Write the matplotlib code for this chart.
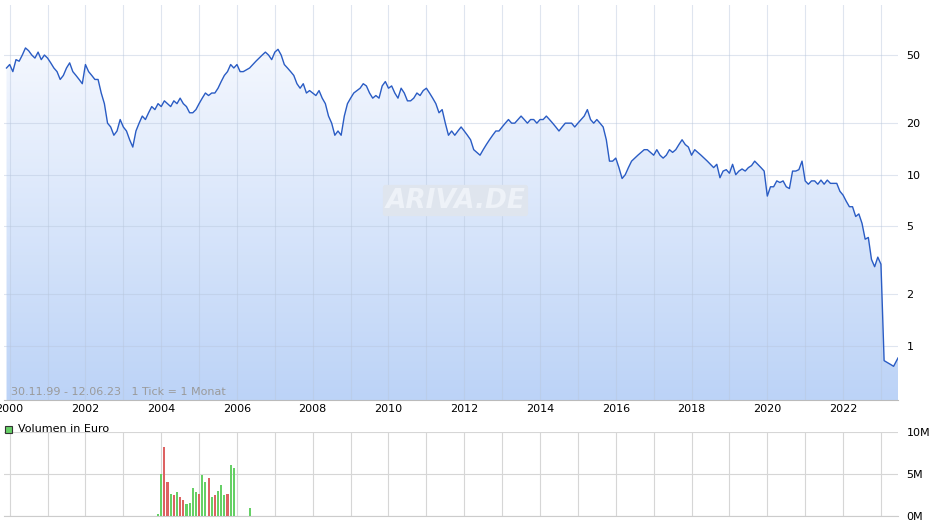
import numpy as np
import pandas as pd
import matplotlib
matplotlib.use("Agg")
import matplotlib.pyplot as plt
from matplotlib.patches import Polygon, Rectangle
from matplotlib.ticker import FixedLocator, FixedFormatter, NullLocator

# monthly closing prices (EUR), Dec 1999 .. Jun 2023
price_1999 = [42]
price_2000 = [44, 40, 47, 46, 50, 55, 53, 50, 48, 52, 47, 50]
price_2001 = [48, 45, 42, 40, 36, 38, 42, 45, 40, 38, 36, 34]
price_2002 = [44, 40, 38, 36, 36, 30, 26, 20, 19, 17, 18, 21]
price_2003 = [19, 18, 16, 14.5, 18, 20, 22, 21, 23, 25, 24, 26]
price_2004 = [25, 27, 26, 25, 27, 26, 28, 26, 25, 23, 23, 24]
price_2005 = [26, 28, 30, 29, 30, 30, 32, 35, 38, 40, 44, 42]
price_2006 = [44, 40, 40, 41, 42, 44, 46, 48, 50, 52, 50, 47]
price_2007 = [52, 54, 50, 44, 42, 40, 38, 34, 32, 34, 30, 31]
price_2008 = [30, 29, 31, 28, 26, 22, 20, 17, 18, 17, 22, 26]
price_2009 = [28, 30, 31, 32, 34, 33, 30, 28, 29, 28, 33, 35]
price_2010 = [32, 33, 30, 28, 32, 30, 27, 27, 28, 30, 29, 31]
price_2011 = [32, 30, 28, 26, 23, 24, 20, 17, 18, 17, 18, 19]
price_2012 = [18, 17, 16, 14, 13.5, 13, 14, 15, 16, 17, 18, 18]
price_2013 = [19, 20, 21, 20, 20, 21, 22, 21, 20, 21, 21, 20]
price_2014 = [21, 21, 22, 21, 20, 19, 18, 19, 20, 20, 20, 19]
price_2015 = [20, 21, 22, 24, 21, 20, 21, 20, 19, 16, 12, 12]
price_2016 = [12.5, 11, 9.5, 10, 11, 12, 12.5, 13, 13.5, 14, 14, 13.5]
price_2017 = [13, 14, 13, 12.5, 13, 14, 13.5, 14, 15, 16, 15, 14.5]
price_2018 = [13, 14, 13.5, 13, 12.5, 12, 11.5, 11, 11.5, 9.6, 10.5, 10.7]
price_2019 = [10.2, 11.5, 10, 10.5, 10.8, 10.5, 11, 11.3, 12, 11.5, 11, 10.5]
price_2020 = [7.5, 8.5, 8.5, 9.2, 9, 9.2, 8.5, 8.3, 10.5, 10.5, 10.7, 12]
price_2021 = [9.2, 8.8, 9.2, 9.2, 8.8, 9.3, 8.8, 9.3, 8.9, 8.9, 8.9, 8.0]
price_2022 = [7.6, 7.0, 6.5, 6.5, 5.7, 5.9, 5.2, 4.2, 4.3, 3.2, 2.9, 3.3]
price_2023 = [3.0, 0.82, 0.8, 0.78, 0.76, 0.85]

# monthly volume (million EUR), Dec 2003 .. Apr 2006, up = green, down = red
volume_m = [0.25, 5.0, 8.2, 4.0, 2.6, 2.5, 2.9, 2.3, 1.9, 1.4, 1.5, 3.3, 2.8,
            2.6, 4.9, 4.1, 4.5, 2.3, 2.5, 3.0, 3.7, 2.5, 2.6, 6.1, 5.7,
            0, 0, 0, 0, 1.0]
volume_up = [1, 1, 0, 0, 1, 0, 1, 0, 0, 1, 1, 1, 1,
             0, 1, 1, 0, 1, 0, 1, 1, 1, 0, 1, 1,
             1, 1, 1, 1, 1]

price_ticks = [1, 2, 5, 10, 20, 50]
vol_ticks = [0, 5, 10]
vol_tick_labels = ["0M", "5M", "10M"]
years = list(range(2000, 2024))

prices = (price_1999 + price_2000 + price_2001 + price_2002 + price_2003 + price_2004
          + price_2005 + price_2006 + price_2007 + price_2008 + price_2009 + price_2010
          + price_2011 + price_2012 + price_2013 + price_2014 + price_2015 + price_2016
          + price_2017 + price_2018 + price_2019 + price_2020 + price_2021 + price_2022
          + price_2023)
t = 1999 + 11 / 12 + np.arange(len(prices)) / 12
t[-1] = 2023.45
tv = 2003 + 11 / 12 + np.arange(len(volume_m)) / 12

W, H = 940, 526
fig = plt.figure(figsize=(W / 100, H / 100), dpi=100)
x0, x1 = 1999.85, 2023.45
xl = 4 / W
xw = (898 - 4) / W
ax = fig.add_axes([xl, 1 - 400 / H, xw, 395 / H])
axv = fig.add_axes([xl, 1 - 516 / H, xw, 84 / H])

ymin, ymax = 0.483, 98
ax.set_xlim(x0, x1)
ax.set_yscale("log")
ax.set_ylim(ymin, ymax)

# gradient fill under line: white at top, light blue at bottom (axes coords)
grad = np.linspace(0, 1, 256).reshape(-1, 1)
cmap = matplotlib.colors.LinearSegmentedColormap.from_list("g", ["#bcd3f7", "#fbfcff"])
im = ax.imshow(grad, cmap=cmap, aspect="auto", extent=[0, 1, 0, 1],
               origin="lower", transform=ax.transAxes, zorder=1)
poly = Polygon(np.column_stack([np.r_[t[0], t, t[-1]], np.r_[ymin, prices, ymin]]),
               closed=True, transform=ax.transData, facecolor="none", edgecolor="none")
ax.add_patch(poly)
im.set_clip_path(poly)
ax.set_xlim(x0, x1)
ax.set_ylim(ymin, ymax)
ax.plot(t, prices, color="#2a5cc4", lw=1.0, zorder=3)

for a in (ax, axv):
    a.set_xticks(years, minor=False)
    a.grid(True, color="#d6d6d6", lw=0.8, zorder=0)
    for s in a.spines.values():
        s.set_visible(False)
    a.tick_params(length=0)
    a.yaxis.tick_right()

ax.grid(True, color="#b8c6dc", lw=0.8, alpha=0.45, zorder=2)
ax.yaxis.set_major_locator(FixedLocator(price_ticks))
ax.yaxis.set_major_formatter(FixedFormatter([str(v) for v in price_ticks]))
ax.yaxis.set_minor_locator(NullLocator())
ax.set_xticklabels([str(y) if y % 2 == 0 else "" for y in years])
ax.tick_params(axis="both", labelsize=8, pad=3)
ax.tick_params(axis="y", pad=6)
ax.spines["bottom"].set_visible(True)
ax.spines["bottom"].set_color("#bbbbbb")

ax.text(0.008, 0.008, "30.11.99 - 12.06.23   1 Tick = 1 Monat", transform=ax.transAxes,
        fontsize=8, color="#9a9a9a", va="bottom", zorder=4)
ax.text(0.505, 0.505, "ARIVA.DE", transform=ax.transAxes, fontsize=19,
        fontweight="bold", style="italic", color="#eef2f8", ha="center", va="center",
        zorder=2, bbox=dict(boxstyle="round,pad=0.1", fc="#dfe5ee", ec="none"))

colors = ["#66d066" if u else "#dd6262" for u in volume_up]
axv.bar(tv, volume_m, width=0.055, color=colors, zorder=3)
axv.set_xlim(x0, x1)
axv.set_ylim(0, 10)
axv.yaxis.set_major_locator(FixedLocator(vol_ticks))
axv.yaxis.set_major_formatter(FixedFormatter(vol_tick_labels))
axv.set_xticklabels([])
axv.tick_params(axis="y", labelsize=8, pad=6)
axv.spines["bottom"].set_visible(True)
axv.spines["bottom"].set_color("#cccccc")

fig.patches.append(Rectangle((5 / W, 1 - 433 / H), 7 / W, 7 / H, transform=fig.transFigure,
                             facecolor="#66d066", edgecolor="#333333", lw=0.8))
fig.text(18 / W, 1 - 429 / H, "Volumen in Euro", fontsize=8, va="center")

fig.savefig("out.png", dpi=100)
